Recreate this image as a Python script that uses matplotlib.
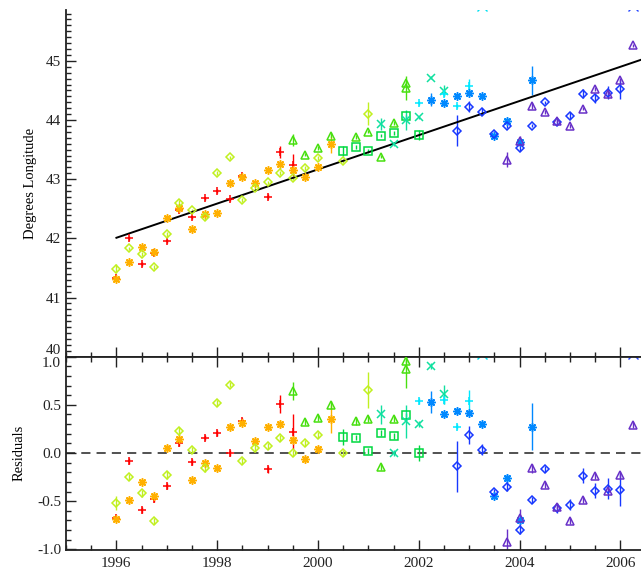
import matplotlib
matplotlib.use("Agg")
import matplotlib.pyplot as plt
from matplotlib.ticker import MultipleLocator, FormatStrFormatter
import numpy as np

plt.rcParams['font.family'] = ['Liberation Serif', 'DejaVu Serif']

# linear fit drawn in the top panel
fit_year0 = 1996.0
fit_lon0 = 42.01
fit_slope = 0.289          # degrees per year
fit_years = [1996.0, 2006.6]

# each series: years, residuals (deg), error bars (deg)
red_plus_years = [1996.0, 1996.25, 1996.5, 1996.75, 1997.0, 1997.25, 1997.5, 1997.75,
                  1998.0, 1998.25, 1998.5, 1999.0, 1999.25, 1999.5]
red_plus_resid = [-0.68, -0.08, -0.59, -0.48, -0.34, 0.10, -0.09, 0.16,
                  0.21, 0.00, 0.33, -0.17, 0.51, 0.22]
red_plus_err = [0.03, 0.03, 0.03, 0.03, 0.03, 0.03, 0.03, 0.03,
                0.03, 0.03, 0.03, 0.04, 0.095, 0.18]

orange_star_years = [1996.0, 1996.25, 1996.5, 1996.75, 1997.0, 1997.25, 1997.5, 1997.75,
                     1998.0, 1998.25, 1998.5, 1998.75, 1999.0, 1999.25, 1999.5, 1999.75,
                     2000.0, 2000.25]
orange_star_resid = [-0.69, -0.49, -0.30, -0.45, 0.05, 0.145, -0.28, -0.10,
                     -0.16, 0.275, 0.31, 0.127, 0.275, 0.30, 0.14, -0.06,
                     0.04, 0.35]
orange_star_err = [0.03] * 17 + [0.145]

yg_diam_years = [1996.0, 1996.25, 1996.5, 1996.75, 1997.0, 1997.25, 1997.5, 1997.75,
                 1998.0, 1998.25, 1998.5, 1998.75, 1999.0, 1999.25, 1999.5, 1999.75,
                 2000.0, 2000.5, 2001.0]
yg_diam_resid = [-0.52, -0.25, -0.42, -0.71, -0.23, 0.23, 0.03, -0.16,
                 0.52, 0.71, -0.08, 0.05, 0.07, 0.155, 0.0, 0.10,
                 0.19, 0.0, 0.655]
yg_diam_err = [0.07, 0.03, 0.04, 0.03, 0.04, 0.04, 0.03, 0.04,
               0.03, 0.03, 0.03, 0.04, 0.03, 0.03, 0.03, 0.03,
               0.03, 0.03, 0.19]

green_tri_years = [1999.5, 1999.75, 2000.0, 2000.25, 2000.75, 2001.0, 2001.25, 2001.5,
                   2001.75, 2001.75]
green_tri_resid = [0.64, 0.32, 0.36, 0.50, 0.33, 0.35, -0.145, 0.355, 0.96, 0.87]
green_tri_err = [0.095, 0.03, 0.03, 0.04, 0.04, 0.03, 0.03, 0.03, 0.03, 0.2]

green_sq_years = [2000.5, 2000.75, 2001.0, 2001.25, 2001.5, 2001.75, 2002.0]
green_sq_resid = [0.165, 0.16, 0.02, 0.21, 0.18, 0.39, 0.0]
green_sq_err = [0.085, 0.03, 0.03, 0.03, 0.03, 0.03, 0.08]

teal_x_years = [2001.25, 2001.5, 2001.75, 2002.0, 2002.25, 2002.5]
teal_x_resid = [0.40, 0.0, 0.33, 0.30, 0.90, 0.61]
teal_x_err = [0.1, 0.03, 0.17, 0.03, 0.03, 0.1]

cyan_plus_years = [2002.0, 2002.5, 2002.75, 2003.0]
cyan_plus_resid = [0.54, 0.55, 0.275, 0.535]
cyan_plus_err = [0.03, 0.04, 0.03, 0.12]

azure_star_years = [2002.25, 2002.5, 2002.75, 2003.0, 2003.25, 2003.5, 2003.75, 2004.0, 2004.25]
azure_star_resid = [0.53, 0.40, 0.44, 0.42, 0.30, -0.45, -0.26, -0.70, 0.275]
azure_star_err = [0.11, 0.03, 0.03, 0.03, 0.03, 0.03, 0.04, 0.03, 0.24]

blue_diam_years = [2002.75, 2003.0, 2003.25, 2003.5, 2003.75, 2004.0, 2004.25, 2004.5,
                   2004.75, 2005.0, 2005.25, 2005.5, 2005.75, 2006.0]
blue_diam_resid = [-0.14, 0.19, 0.035, -0.41, -0.35, -0.80, -0.49, -0.17,
                   -0.57, -0.535, -0.235, -0.39, -0.37, -0.38]
blue_diam_err = [0.26, 0.095, 0.06, 0.04, 0.04, 0.04, 0.03, 0.03,
                 0.05, 0.06, 0.08, 0.08, 0.11, 0.17]

violet_tri_years = [2003.75, 2004.0, 2004.25, 2004.5, 2004.75, 2005.0, 2005.25, 2005.5,
                    2005.75, 2006.0, 2006.25, 2006.5]
violet_tri_resid = [-0.92, -0.67, -0.16, -0.33, -0.56, -0.71, -0.49, -0.235,
                    -0.39, -0.225, 0.29, 0.0]
violet_tri_err = [0.13, 0.085, 0.05, 0.03, 0.04, 0.03, 0.03, 0.03,
                  0.03, 0.03, 0.03, 0.03]

# points that fall just off the top of the plots
off_years = [2003.25, 2006.25]
off_resid = [1.03, 1.03]
off_lon = [45.92, 45.92]
off_colors = ['#00e0f0', '#2848ff']

lon_ticks = [40, 41, 42, 43, 44, 45]
resid_ticks = [-1.0, -0.5, 0.0, 0.5, 1.0]

series = [
    (red_plus_years, red_plus_resid, red_plus_err, '+', '#ff0000', 5.5),
    (orange_star_years, orange_star_resid, orange_star_err, (8, 2, 0), '#ffb000', 6.0),
    (yg_diam_years, yg_diam_resid, yg_diam_err, 'D', '#c0f020', 4.3),
    (green_tri_years, green_tri_resid, green_tri_err, '^', '#48e010', 6.0),
    (green_sq_years, green_sq_resid, green_sq_err, 's', '#00d840', 5.5),
    (teal_x_years, teal_x_resid, teal_x_err, 'x', '#10e0a0', 5.5),
    (cyan_plus_years, cyan_plus_resid, cyan_plus_err, '+', '#00e8ff', 5.5),
    (azure_star_years, azure_star_resid, azure_star_err, (8, 2, 0), '#0088ff', 6.0),
    (blue_diam_years, blue_diam_resid, blue_diam_err, 'D', '#1838ff', 4.3),
    (violet_tri_years, violet_tri_resid, violet_tri_err, '^', '#6830c8', 6.0),
]


def fit_at(t):
    return fit_lon0 + fit_slope * (np.asarray(t) - fit_year0)


fig = plt.figure(figsize=(6.41, 5.75), dpi=100)
ax1 = fig.add_axes([0.1030, 0.3797, 0.8970, 0.6029])
ax2 = fig.add_axes([0.1030, 0.0435, 0.8970, 0.3362])

ax1.plot(fit_years, fit_at(fit_years), color='black', lw=1.4, zorder=3)
ax2.axhline(0.0, color='#222222', lw=1.1, dashes=(6, 4), zorder=1)

for yrs, res, err, mk, col, ms in series:
    yrs = np.array(yrs)
    res = np.array(res)
    kw = dict(yerr=err, fmt='none', ecolor=col, elinewidth=1.0, capsize=0, zorder=2)
    ax1.errorbar(yrs, fit_at(yrs) + res, **kw)
    ax2.errorbar(yrs, res, **kw)
    mkw = dict(marker=mk, ls='none', color=col, mec=col, mfc='none', ms=ms, mew=1.1, zorder=4)
    ax1.plot(yrs, fit_at(yrs) + res, **mkw)
    ax2.plot(yrs, res, **mkw)

for yr, rv, lv, col in zip(off_years, off_resid, off_lon, off_colors):
    ax1.plot([yr], [lv], marker='x', ls='none', color=col, ms=7, mew=1.0)
    ax2.plot([yr], [rv], marker='x', ls='none', color=col, ms=7, mew=1.0)

for ax in (ax1, ax2):
    ax.set_xlim(1995, 2006.41)
    ax.xaxis.set_major_locator(MultipleLocator(2))
    ax.xaxis.set_minor_locator(MultipleLocator(0.5))
    ax.spines['right'].set_visible(False)
    for s in ('left', 'bottom', 'top'):
        ax.spines[s].set_color('#222222')
        ax.spines[s].set_linewidth(1.3)
    ax.tick_params(which='both', direction='in', colors='#222222', labelsize=11, width=1.0)
    ax.tick_params(which='major', length=7)
    ax.tick_params(which='minor', length=3.5)

ax1.set_ylim(40, 45.86)
ax1.set_yticks(lon_ticks)
ax1.yaxis.set_minor_locator(MultipleLocator(0.1))
ax1.spines['top'].set_visible(False)
ax1.tick_params(axis='x', which='both', labelbottom=False, top=False)
ax1.tick_params(axis='y', pad=3.5, right=False)
ax1.set_ylabel('Degrees Longitude', fontsize=10.5)
ax1.yaxis.set_label_coords(-0.05, 0.5)

ax2.set_ylim(-1.007, 1.0)
ax2.set_yticks(resid_ticks)
ax2.yaxis.set_minor_locator(MultipleLocator(0.1))
ax2.yaxis.set_major_formatter(FormatStrFormatter('%.1f'))
ax2.tick_params(axis='x', which='both', top=True, pad=5)
ax2.tick_params(axis='y', pad=3.5, right=False)
ax2.set_ylabel('Residuals', fontsize=10.5)
ax2.yaxis.set_label_coords(-0.07, 0.5)

# labels at the seam sit off-centre, like the original: "40" above it, "1.0" below it
ax1.yaxis.get_major_ticks()[0].label1.set_verticalalignment('bottom')
ax2.yaxis.get_major_ticks()[-1].label1.set_verticalalignment('top')

fig.savefig('out.png', dpi=100)
